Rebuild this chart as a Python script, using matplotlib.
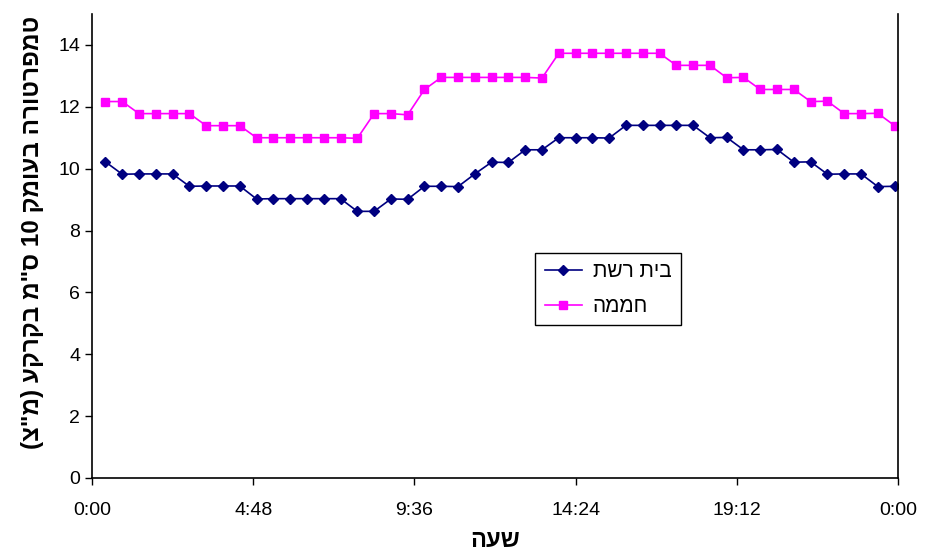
import pandas as pd
import matplotlib
matplotlib.use('Agg')
import matplotlib.pyplot as plt

plt.rcParams['font.family'] = ['Liberation Sans', 'DejaVu Sans']

# measurement times (every half hour)
times = ['0:24', '0:54', '1:24', '1:54', '2:24', '2:54', '3:24', '3:54',
         '4:24', '4:54', '5:24', '5:54', '6:24', '6:54', '7:24', '7:54',
         '8:24', '8:54', '9:24', '9:54', '10:24', '10:54', '11:24', '11:54',
         '12:24', '12:54', '13:24', '13:54', '14:24', '14:54', '15:24', '15:54',
         '16:24', '16:54', '17:24', '17:54', '18:24', '18:54', '19:24', '19:54',
         '20:24', '20:54', '21:24', '21:54', '22:24', '22:54', '23:24', '23:54']

# soil temperature at 10 cm depth
net_house = [10.22, 9.82, 9.83, 9.83, 9.83, 9.43, 9.44, 9.44,
             9.44, 9.02, 9.03, 9.03, 9.03, 9.03, 9.03, 8.62,
             8.62, 9.02, 9.01, 9.43, 9.43, 9.42, 9.83, 10.21,
             10.20, 10.61, 10.61, 11.00, 11.00, 11.00, 10.99, 11.40,
             11.40, 11.40, 11.40, 11.40, 11.00, 11.01, 10.61, 10.61,
             10.62, 10.21, 10.22, 9.82, 9.83, 9.83, 9.42, 9.43]
greenhouse = [12.17, 12.17, 11.78, 11.78, 11.78, 11.78, 11.39, 11.39,
              11.39, 11.00, 11.00, 11.00, 11.00, 11.00, 11.00, 10.98,
              11.78, 11.78, 11.74, 12.56, 12.95, 12.95, 12.95, 12.95,
              12.95, 12.95, 12.93, 13.73, 13.73, 13.73, 13.73, 13.73,
              13.73, 13.73, 13.34, 13.34, 13.34, 12.94, 12.95, 12.56,
              12.56, 12.56, 12.17, 12.18, 11.78, 11.78, 11.79, 11.39]

tick_pos = [0, 4.8, 9.6, 14.4, 19.2, 24]
tick_labels = ['0:00', '4:48', '9:36', '14:24', '19:12', '0:00']

# Hebrew labels written in visual (left-to-right) order
label_net = 'תשר תיב'        # בית רשת
label_green = 'הממח'         # חממה
xlabel = 'העש'               # שעה
ylabel = '(צ"מ) עקרקב מ"ס 10 קמועב הרוטרפמט'

hours = pd.to_timedelta([t + ':00' for t in times]) / pd.Timedelta(hours=1)

fig = plt.figure(figsize=(9.32, 5.58), dpi=100)
ax = fig.add_axes([0.0987, 0.1434, 0.8648, 0.8315])

ax.plot(hours, net_house, color='#000080', marker='D', markersize=5.5,
        linewidth=1.2, label=label_net)
ax.plot(hours, greenhouse, color='#FF00FF', marker='s', markersize=6,
        linewidth=1.2, label=label_green)

ax.set_xlim(0, 24)
ax.set_ylim(0, 15)
ax.set_xticks(tick_pos)
ax.set_xticklabels(tick_labels)
ax.set_yticks(range(0, 15, 2))
ax.tick_params(axis='both', labelsize=14, direction='out', length=5,
               width=1, color='black')
ax.tick_params(axis='x', pad=12)

ax.spines['top'].set_visible(False)
for s in ['left', 'bottom', 'right']:
    ax.spines[s].set_linewidth(1.2)
    ax.spines[s].set_color('black')

ax.set_xlabel(xlabel, fontsize=17, fontweight='bold')
ax.xaxis.set_label_coords(0.5, -0.11)
ax.set_ylabel(ylabel, fontsize=17.5, fontweight='bold')
ax.yaxis.set_label_coords(-0.06, 0.53)

leg = ax.legend(loc='upper left', bbox_to_anchor=(0.55, 0.485),
                borderaxespad=0, fontsize=15, fancybox=False, framealpha=1,
                edgecolor='black', handlelength=1.8, handletextpad=0.5,
                borderpad=0.45, labelspacing=0.75)
leg.get_frame().set_linewidth(1.0)

fig.savefig('out.png', dpi=100)
